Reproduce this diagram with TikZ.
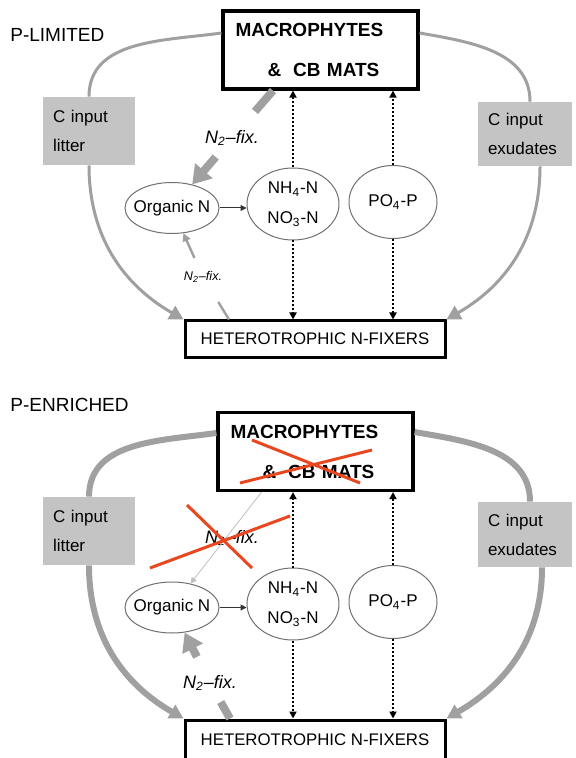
\documentclass[tikz,border=0pt]{standalone}
\usepackage{fontspec}
\setmainfont{Liberation Sans}
\usetikzlibrary{arrows.meta,shapes.geometric}
\definecolor{linegrey}{HTML}{A0A0A0}
\definecolor{boxgrey}{HTML}{C4C4C4}
\definecolor{poolline}{HTML}{707070}
\definecolor{crossred}{HTML}{E8471F}

\begin{document}
\begin{tikzpicture}[
    x=0.5pt, y=-0.5pt,
    title/.style={font=\fontsize{9.5}{11}\selectfont, anchor=west, inner sep=0pt},
    plant/.style={
        draw=black, line width=1.6pt,
        minimum width=97.5pt, minimum height=39pt,
        text width=85pt, align=left, inner sep=0pt,
        font=\fontsize{9.5}{20}\selectfont\bfseries,
    },
    fixer/.style={
        draw=black, line width=1.5pt,
        minimum width=130pt, minimum height=#1, inner sep=0pt,
        font=\fontsize{8.4}{10}\selectfont,
    },
    fixer/.default=18pt,
    cinput/.style={
        fill=boxgrey, text width=#1, inner xsep=5pt, inner ysep=0pt,
        align=left, font=\fontsize{8.5}{14.5}\selectfont,
    },
    pool/.style={
        ellipse, draw=poolline, line width=0.5pt, inner sep=-3pt,
        align=center, font=\fontsize{8.5}{15}\selectfont,
    },
    fixbig/.style={font=\fontsize{9}{10}\selectfont\itshape, inner xsep=1pt, inner ysep=5.5pt},
    fixsmall/.style={font=\fontsize{6.3}{7}\selectfont\itshape, inner xsep=1pt, inner ysep=6.5pt},
    cline/.style={draw=linegrey, line width=#1},
    carr/.style={draw=linegrey, line width=#1, -{Triangle[length=7pt, width=7.5pt]}},
    dotarr/.style={line width=1pt, dash pattern=on 1pt off 1pt, -{Triangle[length=3.5pt, width=3.5pt]}},
    thinarr/.style={draw=black!80, line width=0.5pt, -{Triangle[length=3pt, width=3pt]}},
    fixbar/.style={draw=linegrey, line width=4pt},
    fixarr/.style={draw=linegrey, line width=4pt, -{Triangle[length=9pt, width=11pt]}},
    smallbar/.style={draw=linegrey, line width=1.2pt},
    smallarr/.style={draw=linegrey, line width=1.2pt, -{Triangle[length=4pt, width=4pt]}},
    faintarr/.style={draw=black!25, line width=0.4pt, -{Triangle[length=3pt, width=3pt]}},
    strike/.style={draw=crossred, line width=1.5pt},
]
\useasboundingbox (0,0) rectangle (575,758);
\clip (0,0) rectangle (575,758);

% ── P-limited panel ──
\node[title] (plim) at (10,35) {P-LIMITED};
\node[plant] (mp1) at (320.5,50) {MACROPHYTES\\\hspace*{16pt}\&\hspace{6pt}CB MATS};
\node[cinput=36pt, minimum height=34pt] (lit1) at (89,131) {C input\\litter};
\node[cinput=37pt, minimum height=32pt] (exu1) at (525,134) {C input\\exudates};
\node[pool, minimum width=47pt, minimum height=25.5pt] (org1) at (172,208) {Organic N};
\node[pool, minimum width=46pt, minimum height=36pt] (nit1) at (293,204) {NH\textsubscript{4}-N\\NO\textsubscript{3}-N};
\node[pool, minimum width=44pt, minimum height=36.5pt] (pho1) at (393,202) {PO\textsubscript{4}-P};
\node[fixer] (het1) at (315,339) {HETEROTROPHIC N-FIXERS};
\node[fixbig] (fxa1) at (232,138) {N\textsubscript{2}--fix.};
\node[fixsmall] (fxb1) at (203,277) {N\textsubscript{2}--fix.};

% carbon loop
\draw[cline=1.5pt] ([yshift=8.5pt]mp1.west) to[out=188, in=90] (lit1.north);
\draw[cline=1.5pt] ([yshift=8.5pt]mp1.east) to[out=-10, in=90] ([xshift=2.5pt]exu1.north);
\draw[carr=1.5pt] (lit1.south) to[out=-90, in=150] (het1.north west);
\draw[carr=1.5pt] ([xshift=7.5pt]exu1.south) to[out=-90, in=30] (het1.north east);

% nutrients
\draw[dotarr] (nit1.north) -- (nit1.north |- mp1.south);
\draw[dotarr] (nit1.south) -- (nit1.south |- het1.north);
\draw[dotarr] (pho1.north) -- (pho1.north |- mp1.south);
\draw[dotarr] (pho1.south) -- (pho1.south |- het1.north);
\draw[thinarr] (org1.east) -- (org1.east -| nit1.west);

% N fixation
\draw[fixbar, shorten >=5pt] ([xshift=-23.75pt]mp1.south) -- (fxa1);
\draw[fixarr] (fxa1) -- (org1);
\draw[smallbar, shorten >=3.5pt] ([xshift=-43pt]het1.north) -- (fxb1);
\draw[smallarr] (fxb1) -- (org1);

% ── P-enriched panel ──
\node[title] (penr) at (10,405) {P-ENRICHED};
\node[plant] (mp2) at (315.5,451.5) {MACROPHYTES\\\hspace*{16pt}\&\hspace{6pt}CB MATS};
\node[cinput=36pt, minimum height=34pt] (lit2) at (89,531) {C input\\litter};
\node[cinput=37pt, minimum height=32.5pt] (exu2) at (525,534.5) {C input\\exudates};
\node[pool, minimum width=47pt, minimum height=25.5pt] (org2) at (172,607.5) {Organic N};
\node[pool, minimum width=46pt, minimum height=36pt] (nit2) at (293,604) {NH\textsubscript{4}-N\\NO\textsubscript{3}-N};
\node[pool, minimum width=44pt, minimum height=36.5pt] (pho2) at (393,602) {PO\textsubscript{4}-P};
\node[fixer=20pt] (het2) at (315,740) {HETEROTROPHIC N-FIXERS};
\node[fixbig] (fxa2) at (232,538) {N\textsubscript{2}--fix.};
\node[fixbig] (fxb2) at (210,683) {N\textsubscript{2}--fix.};

% carbon loop
\draw[cline=3pt] ([yshift=9.25pt]mp2.west) to[out=188, in=90] (lit2.north);
\draw[cline=3pt] ([yshift=9.75pt]mp2.east) to[out=-10, in=90] ([xshift=2.5pt]exu2.north);
\draw[carr=3pt] (lit2.south) to[out=-90, in=150] (het2.north west);
\draw[carr=3pt] ([xshift=8.5pt]exu2.south) to[out=-90, in=30] (het2.north east);

% nutrients
\draw[dotarr] (nit2.north) -- (nit2.north |- mp2.south);
\draw[dotarr] (nit2.south) -- (nit2.south |- het2.north);
\draw[dotarr] (pho2.north) -- (pho2.north |- mp2.south);
\draw[dotarr] (pho2.south) -- (pho2.south |- het2.north);
\draw[thinarr] (org2.east) -- (org2.east -| nit2.west);

% N fixation
\draw[faintarr] ([xshift=-27pt]mp2.south) -- (org2);
\draw[fixbar] ([xshift=-42.5pt]het2.north) -- (fxb2);
\draw[fixarr, shorten <=4pt] (fxb2) -- (org2);

% crossed out
\draw[strike] (252,440) -- (360,483);
\draw[strike] (240,483) -- (372,450);
\draw[strike] (187,505) -- (252,568);
\draw[strike] (150,568) -- (290,516);

\end{tikzpicture}
\end{document}
